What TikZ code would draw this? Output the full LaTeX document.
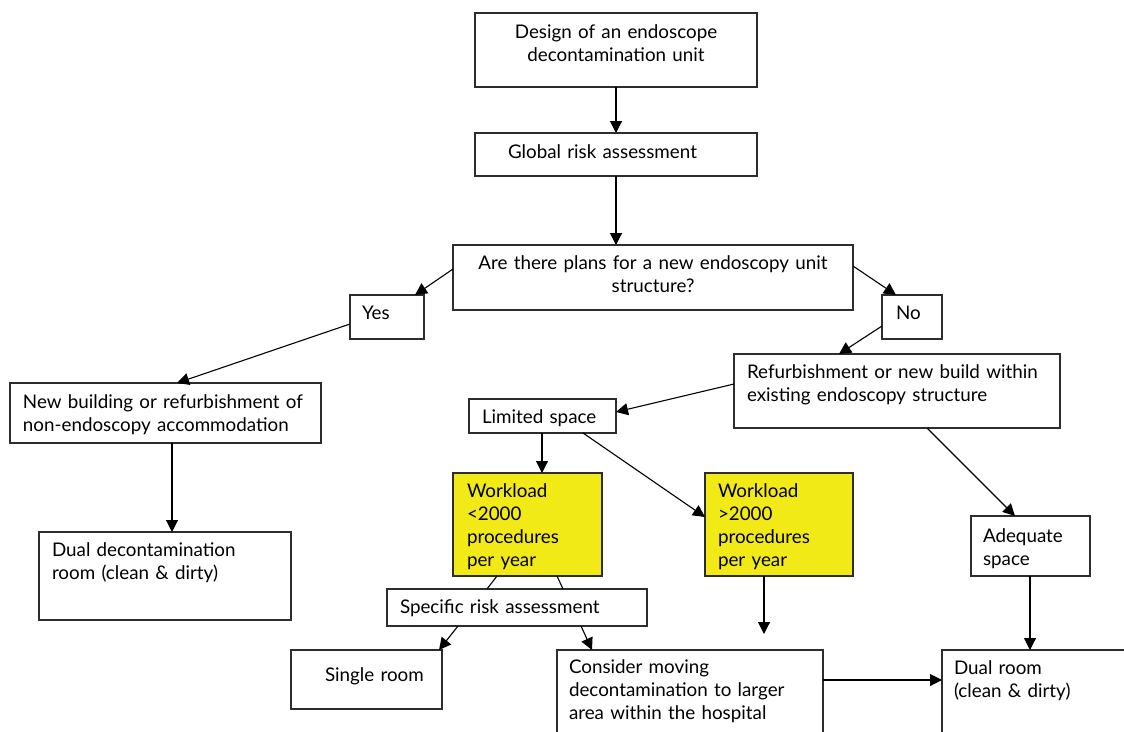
\documentclass[tikz,border=0pt]{standalone}
\usepackage{fontspec}
\setmainfont{Lato}
\usetikzlibrary{arrows.meta,calc}
\definecolor{wlyellow}{RGB}{242,234,22}
\definecolor{edgegray}{RGB}{45,45,45}
\begin{document}
\begin{tikzpicture}[x=1pt,y=-1pt,
  box/.style={draw=edgegray, line width=1.2pt, anchor=north west, inner ysep=0pt, outer sep=0pt,
    align=left, font=\fontsize{18.8}{23}\selectfont, text=black},
  yel/.style={box, fill=wlyellow},
  conn/.style={draw=black, line width=1.1pt, -{Triangle[length=12pt,width=12pt]}},
  plainline/.style={draw=black, line width=1.1pt}]
\clip (0,0) rectangle (1124,731);
\fill[white] (0,0) rectangle (1124,731);

\node[box, align=center, inner xsep=10pt, text width=262pt, text height=25pt, text depth=49pt] (design) at (475,13) {Design of an endoscope\\decontamination unit};
\node[box, inner xsep=33pt, text width=216pt, text height=25pt, text depth=18pt] (global) at (475,133) {Global risk assessment};
\node[box, align=center, inner xsep=8pt, text width=384pt, text height=24pt, text depth=41pt] (are) at (453,245) {Are there plans for a new endoscopy unit\\structure?};
\node[box, inner xsep=12pt, text width=50pt, text height=24pt, text depth=20pt] (yes) at (350,295) {Yes};
\node[box, inner xsep=14pt, text width=32pt, text height=24pt, text depth=20pt] (no) at (882,295) {No};
\node[box, inner xsep=13pt, text width=285pt, text height=25pt, text depth=35pt] (newb) at (10,383) {\mbox{New building or refurbishment of}\\non-endoscopy accommodation};
\node[box, inner xsep=13pt, text width=300pt, text height=24pt, text depth=50pt] (refurb) at (734,354) {\mbox{Refurbishment or new build within}\\existing endoscopy structure};
\node[box, inner xsep=13pt, text width=121pt, text height=24pt, text depth=10pt] (limited) at (469,399) {Limited space};
\node[yel, inner xsep=14pt, text width=121pt, text height=24pt, text depth=79pt] (wlt) at (453,473) {Workload\\<2000\\procedures\\per year};
\node[yel, inner xsep=13pt, text width=122pt, text height=24pt, text depth=79pt] (wgt) at (705,473) {Workload\\>2000\\procedures\\per year};
\node[box, inner xsep=12pt, text width=95pt, text height=26pt, text depth=34pt] (adequate) at (971,516) {Adequate\\space};
\node[box, inner xsep=13pt, text width=226pt, text height=24pt, text depth=64pt] (dualdecon) at (39,532) {Dual decontamination\\room (clean \& dirty)};
\node[box, inner xsep=13pt, text width=234pt, text height=24pt, text depth=13pt] (specific) at (387,589) {Specific risk assessment};
\node[box, inner xsep=13pt, text width=125pt, text height=31pt, text depth=28pt] (single) at (291,650) {\hspace*{21pt}\mbox{Single room}};
\node[box, inner xsep=12pt, text width=242pt, text height=23pt, text depth=67pt] (consider) at (557,650) {Consider moving\\decontamination to larger\\area within the hospital};
\node[box, inner xsep=12pt, text width=174pt, text height=24pt, text depth=66pt] (dualroom) at (942,650) {Dual room\\(clean \& dirty)};
\coordinate (wgtend) at (764,634);

\draw[conn] (design.south) -- (global.north);
\draw[conn] (global.south) -- (global.south |- are.north);
\draw[conn] ($(are.north west)+(0,24)$) -- ($(yes.north east)+(-9,0)$);
\draw[conn] ($(are.north east)+(0,21)$) -- ($(no.north west)+(14,0)$);
\draw[conn] ($(yes.north west)+(0,29)$) -- ($(newb.north west)+(167,0)$);
\draw[conn] ($(no.north west)+(0,31)$) -- ($(refurb.north west)+(105,0)$);
\draw[conn] ($(refurb.north west)+(0,30)$) -- ($(limited.north east)+(0,13)$);
\draw[conn] ($(limited.south west)+(73,0)$) -- ($(wlt.north west)+(89,0)$);
\draw[conn] ($(limited.south west)+(114,0)$) -- ($(wgt.north west)+(0,44)$);
\draw[conn] ($(refurb.south west)+(193,0)$) -- ($(adequate.north west)+(44,0)$);
\draw[conn] ($(newb.south west)+(162,0)$) -- ($(dualdecon.north west)+(133,0)$);
\draw[plainline] ($(wlt.south west)+(44,0)$) -- ($(specific.north west)+(100,0)$);
\draw[plainline] ($(wlt.south west)+(104,0)$) -- ($(specific.north west)+(176,0)$);
\draw[conn] ($(specific.south west)+(71,0)$) -- ($(single.north west)+(148,0)$);
\draw[conn] ($(specific.south west)+(194,0)$) -- ($(consider.north west)+(35,0)$);
\draw[conn] ($(wgt.south west)+(59,0)$) -- (wgtend);
\draw[conn] ($(adequate.south west)+(59,0)$) -- ($(dualroom.north west)+(88,0)$);
\draw[conn] ($(consider.north east)+(0,30)$) -- ($(dualroom.north west)+(0,30)$);
\end{tikzpicture}
\end{document}
